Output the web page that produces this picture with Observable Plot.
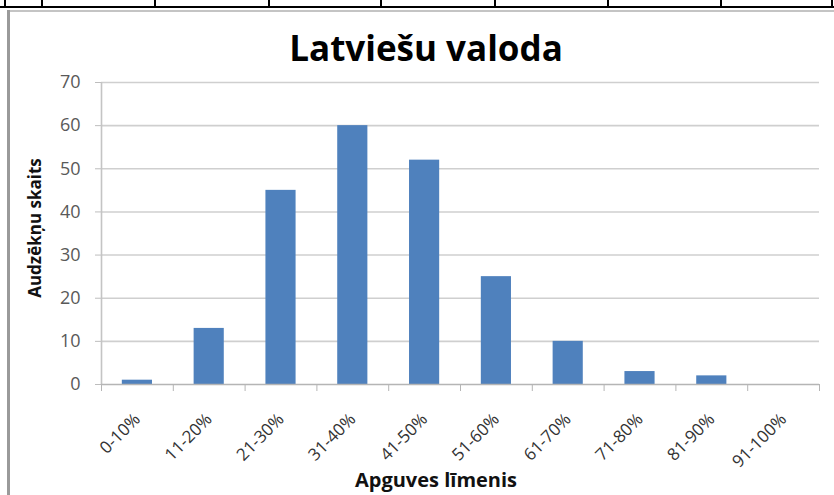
<!DOCTYPE html>
<html>
<head>
<meta charset="utf-8">
<script src="https://cdn.jsdelivr.net/npm/d3@7"></script>
<script src="https://cdn.jsdelivr.net/npm/@observablehq/plot@0.6"></script>
<style>
  html, body { margin: 0; padding: 0; background: #fff; width: 834px; height: 495px; overflow: hidden; }
  #wrap { position: relative; width: 834px; height: 495px; }
  #chart { position: absolute; left: 0; top: 0; }
  .cellrow { position: absolute; left: 0; top: 0; width: 834px; height: 8px; border-bottom: 2px solid #000; box-sizing: border-box; }
  .vline { position: absolute; top: 0; height: 8px; width: 2px; background: #000; }
  .frame-top { position: absolute; left: 8px; top: 10px; width: 826px; height: 2px; background: #c4c4c4; }
  .frame-left { position: absolute; left: 7px; top: 10px; width: 3px; height: 485px; background: #9a9a9a; }
  #title { position: absolute; left: 0; width: 852px; top: 27px; text-align: center; line-height: 1.2;
           font-family: "Open Sans", sans-serif; font-weight: bold; font-size: 35px; color: #000; }
  #ytitle { position: absolute; left: 34px; top: 228px; transform: translate(-50%, -50%) rotate(-90deg);
            white-space: nowrap; font-family: "Open Sans", sans-serif; font-weight: bold; font-size: 17px; color: #111; line-height: 1; }
  #xtitle { position: absolute; left: 436px; top: 480px; transform: translate(-50%, -50%);
            white-space: nowrap; font-family: "Open Sans", sans-serif; font-weight: bold; font-size: 20px; color: #111; line-height: 1; }
</style>
</head>
<body>
<div id="wrap">
  <div id="chart"></div>
  <div class="cellrow"></div>
  <div id="cols"></div>
  <div class="frame-top"></div>
  <div class="frame-left"></div>
  <div id="title"></div>
  <div id="ytitle"></div>
  <div id="xtitle"></div>
</div>
<script>
const chartTitle = "Latviešu valoda";
const xTitle = "Apguves līmenis";
const yTitle = "Audzēkņu skaits";
const categories = ["0-10%", "11-20%", "21-30%", "31-40%", "41-50%", "51-60%", "61-70%", "71-80%", "81-90%", "91-100%"];
const counts = [1, 13, 45, 60, 52, 25, 10, 3, 2, 0];
const yTicks = [0, 10, 20, 30, 40, 50, 60, 70];
const tableColumnEdges = [5, 42, 155, 269, 381, 495, 608, 721, 832];

document.getElementById("title").textContent = chartTitle;
document.getElementById("xtitle").textContent = xTitle;
document.getElementById("ytitle").textContent = yTitle;
const cols = document.getElementById("cols");
for (const x of tableColumnEdges) {
  const d = document.createElement("div");
  d.className = "vline";
  d.style.left = (x - 1) + "px";
  cols.appendChild(d);
}

const idx = d3.range(categories.length);
const data = idx.map(i => ({i, category: categories[i], count: counts[i]}));

const chart = Plot.plot({
  width: 834,
  height: 495,
  marginLeft: 101,
  marginRight: 15,
  marginTop: 82,
  marginBottom: 111,
  style: {fontFamily: "'Open Sans', sans-serif", fontSize: "16px", background: "transparent"},
  x: {type: "linear", domain: [0, categories.length], axis: null},
  y: {domain: [0, 70], axis: null},
  marks: [
    Plot.ruleY(yTicks.filter(t => t > 0), {stroke: "#cfcfcf", strokeWidth: 1.6}),
    Plot.rectY(data, {x1: d => d.i + 0.29, x2: d => d.i + 0.71, y: "count", fill: "#4f81bd"}),
    Plot.axisY({ticks: yTicks, label: null, tickSize: 6, tickPadding: 15, stroke: "#bdbdbd", fill: "#595959", fontSize: 18, tickFormat: d => d}),
    Plot.ruleX([0], {stroke: "#c4c4c4", strokeWidth: 1.6}),
    Plot.ruleY([0], {stroke: "#b5b5b5", strokeWidth: 1.6}),
    Plot.axisX({ticks: d3.range(0, categories.length + 1), label: null, tickSize: 7, stroke: "#b5b5b5", tickFormat: () => ""}),
    Plot.axisX({ticks: idx.map(i => i + 0.5), label: null, tickSize: 0, tickPadding: 32, tickRotate: -45,
                fill: "#333", fontSize: 17, tickFormat: v => categories[Math.floor(v)]})
  ]
});
document.getElementById("chart").appendChild(chart);
</script>
</body>
</html>
